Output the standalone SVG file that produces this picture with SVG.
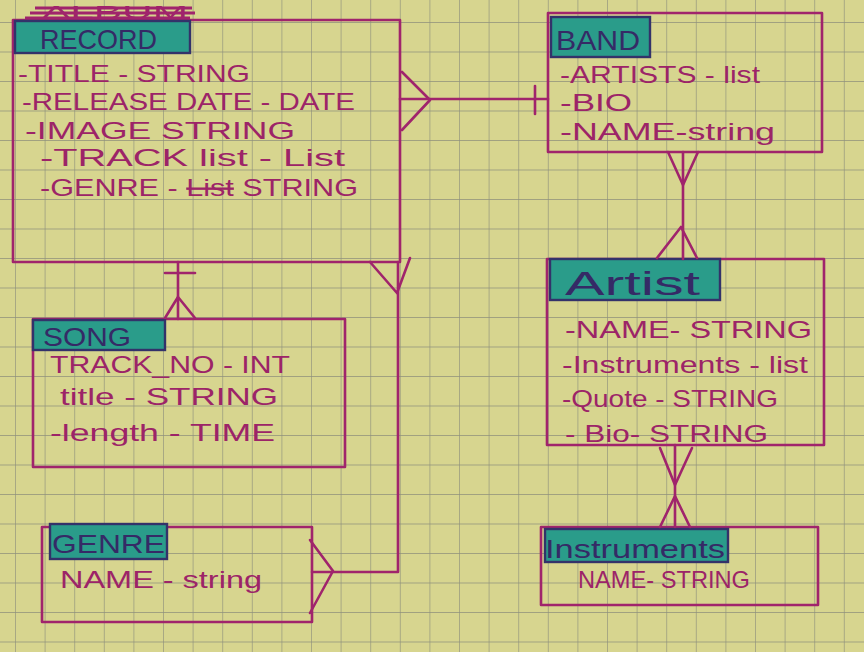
<svg xmlns="http://www.w3.org/2000/svg" width="864" height="652" viewBox="0 0 864 652">
<defs>
<pattern id="grid" x="15" y="22" width="29.6" height="29.5" patternUnits="userSpaceOnUse">
<path d="M0 0V29.5M0 0H29.6" fill="none" stroke="#8e907c" stroke-width="1.3"/>
</pattern>
<style>
.box{fill:none;stroke:#a0246c;stroke-width:2.6;stroke-linejoin:round}
.hdr{fill:#2a9c8a;stroke:#33326a;stroke-width:2.4}
.ht{font-family:"Liberation Sans",sans-serif;font-size:28px;fill:#352a66}
.at{font-family:"Liberation Sans",sans-serif;font-size:24px;fill:#9c2468}
.ln{fill:none;stroke:#a0246c;stroke-width:2.6;stroke-linecap:round;stroke-linejoin:round}
.strike{stroke:#a0246c;stroke-width:3;fill:none}
</style>
</defs>
<rect width="864" height="652" fill="#d7d58f"/>
<rect width="864" height="652" fill="url(#grid)"/>

<g id="record">
<text class="at" x="42" y="18" style="font-size:17px" textLength="146" lengthAdjust="spacingAndGlyphs">ALBUM</text>
<path class="strike" d="M35 8H192M30 13H195M25 18H190"/>
<rect class="box" x="13" y="20" width="387" height="242"/>
<rect class="hdr" x="15" y="21" width="175" height="32"/>
<text class="ht" x="40" y="49" textLength="117" lengthAdjust="spacingAndGlyphs">RECORD</text>
<text class="at" x="18" y="82" textLength="232" lengthAdjust="spacingAndGlyphs">-TITLE - STRING</text>
<text class="at" x="22" y="110" textLength="333" lengthAdjust="spacingAndGlyphs">-RELEASE DATE - DATE</text>
<text class="at" x="25" y="139" textLength="270" lengthAdjust="spacingAndGlyphs">-IMAGE   STRING</text>
<text class="at" x="40" y="166" textLength="305" lengthAdjust="spacingAndGlyphs">-TRACK list - List</text>
<text class="at" x="40" y="196" textLength="318" lengthAdjust="spacingAndGlyphs">-GENRE -    <tspan text-decoration="line-through">List</tspan> STRING</text>
</g>

<g id="band">
<rect class="box" x="548" y="13" width="274" height="139"/>
<rect class="hdr" x="551" y="17" width="99" height="40"/>
<text class="ht" x="556" y="50" textLength="84" lengthAdjust="spacingAndGlyphs">BAND</text>
<text class="at" x="560" y="83" textLength="200" lengthAdjust="spacingAndGlyphs">-ARTISTS - list</text>
<text class="at" x="560" y="111" textLength="72" lengthAdjust="spacingAndGlyphs">-BIO</text>
<text class="at" x="560" y="140" textLength="215" lengthAdjust="spacingAndGlyphs">-NAME-string</text>
</g>

<g id="artist">
<rect class="box" x="547" y="259" width="277" height="186"/>
<rect class="hdr" x="550" y="259" width="170" height="41"/>
<text class="ht" x="565" y="295" style="font-size:34px" textLength="135" lengthAdjust="spacingAndGlyphs">Artist</text>
<text class="at" x="565" y="338" textLength="247" lengthAdjust="spacingAndGlyphs">-NAME-  STRING</text>
<text class="at" x="562" y="373" textLength="246" lengthAdjust="spacingAndGlyphs">-Instruments - list</text>
<text class="at" x="562" y="407" textLength="216" lengthAdjust="spacingAndGlyphs">-Quote - STRING</text>
<text class="at" x="565" y="442" textLength="203" lengthAdjust="spacingAndGlyphs">- Bio- STRING</text>
</g>

<g id="instruments">
<rect class="box" x="541" y="527" width="277" height="78"/>
<rect class="hdr" x="545" y="529" width="183" height="33"/>
<text class="ht" x="545" y="558" style="font-size:26px" textLength="180" lengthAdjust="spacingAndGlyphs">Instruments</text>
<text class="at" x="578" y="588" textLength="172" lengthAdjust="spacingAndGlyphs">NAME- STRING</text>
</g>

<g id="song">
<rect class="box" x="33" y="319" width="312" height="148"/>
<rect class="hdr" x="33" y="320" width="132" height="30"/>
<text class="ht" x="43" y="346" style="font-size:25px" textLength="88" lengthAdjust="spacingAndGlyphs">SONG</text>
<text class="at" x="50" y="373" textLength="240" lengthAdjust="spacingAndGlyphs">TRACK_NO - INT</text>
<text class="at" x="60" y="405" textLength="218" lengthAdjust="spacingAndGlyphs">title - STRING</text>
<text class="at" x="50" y="441" textLength="225" lengthAdjust="spacingAndGlyphs">-length - TIME</text>
</g>

<g id="genre">
<rect class="box" x="42" y="527" width="270" height="95"/>
<rect class="hdr" x="50" y="524" width="117" height="35"/>
<text class="ht" x="52" y="553" style="font-size:26px" textLength="113" lengthAdjust="spacingAndGlyphs">GENRE</text>
<text class="at" x="60" y="588" textLength="202" lengthAdjust="spacingAndGlyphs">NAME - string</text>
</g>

<g id="connectors">
<path class="ln" d="M400 99H548"/>
<path class="ln" d="M402 72L430 100L402 130"/>
<path class="ln" d="M535 86V114"/>
<path class="ln" d="M683 152V259"/>
<path class="ln" d="M668 152L683 185L698 152"/>
<path class="ln" d="M657 258L681 227L697 258"/>
<path class="ln" d="M675 445V527"/>
<path class="ln" d="M660 448L675 485L692 448"/>
<path class="ln" d="M660 527L675 496L690 527"/>
<path class="ln" d="M178 262V319"/>
<path class="ln" d="M165 273H195"/>
<path class="ln" d="M165 318L178 297L195 318"/>
<path class="ln" d="M398 262V572H312"/>
<path class="ln" d="M370 262L397 293L410 258"/>
<path class="ln" d="M310 540L333 571L310 613"/>
</g>
</svg>
